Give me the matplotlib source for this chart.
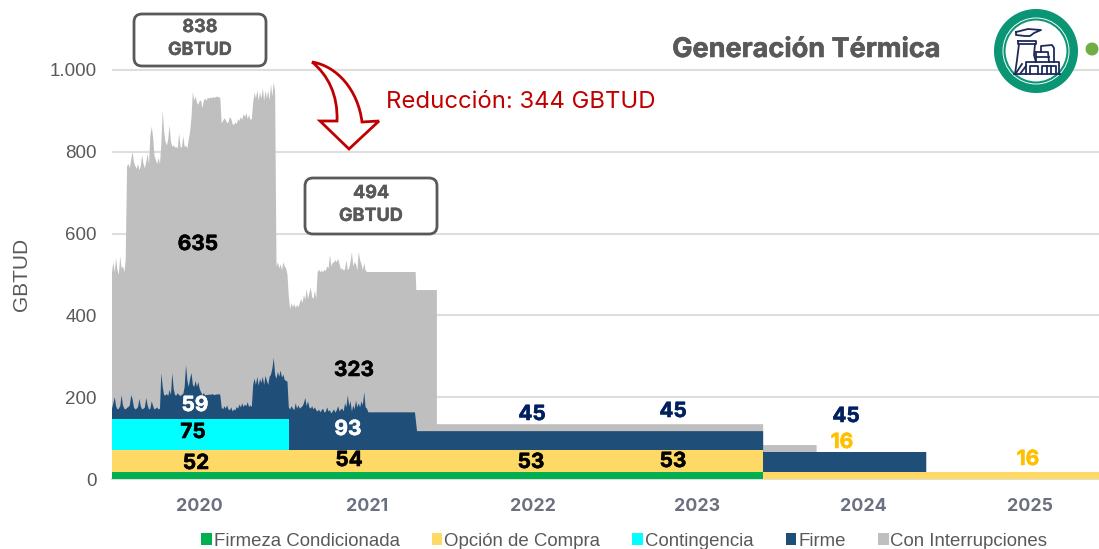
import numpy as np
import matplotlib
matplotlib.use("Agg")
import matplotlib.pyplot as plt
import matplotlib.patheffects as pe
from matplotlib.patches import FancyBboxPatch, Circle, PathPatch, Rectangle
from matplotlib.path import Path
from matplotlib.lines import Line2D

# ---------- data (GBTUD, stacked tops) ----------
years = ["2020", "2021", "2022", "2023", "2024", "2025"]
year_centres = [6.4, 18.6, 30.7, 42.7, 54.8, 67.0]      # months since start
series_names = ["Firmeza Condicionada", "Opción de Compra", "Contingencia", "Firme", "Con Interrupciones"]

step_months = 0.1  # sampling of the daily part of the series
firm_top = [172,185,200,178,170,172,178,205,180,172,170,174,176,180,205,195,175,170,172,176,196,178,170,172,175,198,180,170,172,190,178,170,172,175,170,172,
            259,225,205,204,208,203,218,205,259,220,205,204,210,205,203,206,208,225,279,240,225,245,259,230,225,240,225,237,220,212,205,210,204,206,205,207,205,208,206,205,207,206,208,205,
            175,170,178,172,180,170,168,175,165,170,168,176,172,182,175,185,176,182,178,188,176,180,176,
            230,245,230,250,228,245,235,250,230,252,240,230,250,255,270,296,255,245,262,250,265,248,255,242,240,238,
            175,170,178,172,168,185,172,180,172,175,178,185,198,178,190,175,172,178,170,175,168,165,170,163,168,172,162,165,175,165,168,160,165,170,162,168,178,165,170,172,165,185,175,205,178,190,165,180,170,192,175,185,175,190,180,212,175,172,163]
gray_top = [505,530,505,540,510,500,545,515,520,505,535,
            765,770,760,780,800,775,765,758,770,755,765,792,770,760,775,795,770,
            840,862,835,790,780,770,785,770,820,902,850,825,815,830,865,825,812,816,810,812,808,845,812,810,838,812,815,808,830,850,885,
            946,925,935,920,915,925,925,907,925,930,925,932,930,933,931,934,932,934,935,933,932,
            870,875,882,878,870,872,885,880,868,865,872,868,880,875,885,878,892,885,895,880,890,878,880,
            920,945,930,950,925,945,930,955,925,950,930,950,925,965,935,970,945,
            520,530,515,525,510,530,520,515,500,
            445,415,430,420,428,418,425,420,430,440,430,450,438,465,440,455,468,445,440,460,440,
            505,512,505,510,505,512,508,520,515,548,520,528,530,535,530,538,525,512,515,510,512,535,510,515,530,555,520,530,525,510,555,535,525,510,528,510,506]

gray_tail_x = [22.15, 22.2, 23.7, 23.7, 47.5, 47.5, 51.4, 51.4]
gray_tail_y = [506, 462, 462, 134, 134, 83, 83, 0]
firm_tail_x = [22.1, 22.25, 47.5, 47.5, 59.4, 59.4]
firm_tail_y = [163, 117, 117, 66, 66, 0]
cont_x = [0, 12.9, 12.9]
cont_y = [146, 146, 0]
opt_x = [0, 12.9, 12.9, 47.5, 47.5, 72]
opt_y = [70, 70, 72, 72, 16, 16]
firmcond_x = [0, 47.5, 47.5]
firmcond_y = [16, 16, 0]

totals = ["838\nGBTUD", "494\nGBTUD"]
reduction = "Reducción: 344 GBTUD"
title = "Generación Térmica"
labels = ["635", "59", "75", "52", "323", "93", "54", "53", "53", "45", "45", "45", "16", "16"]

# ---------- styles ----------
C_GREEN, C_YEL, C_CYAN, C_NAVY, C_GRAY = "#00B050", "#FFD966", "#00FFFF", "#1F4E79", "#BFBFBF"
TXT = "#595959"
plt.rcParams["font.family"] = ["Liberation Sans", "DejaVu Sans"]
W, H = 1099, 549
fig = plt.figure(figsize=(W / 100, H / 100), dpi=100)
ax = fig.add_axes([112 / W, 1 - 479 / H, 1 - 112 / W, 479 / H])


def layer(x, y, color, z):
    x, y = np.asarray(x, float), np.asarray(y, float)
    ax.fill(np.r_[x, x[-1], x[0]], np.r_[y, 0, 0], color=color, lw=0, zorder=z)


gx = np.r_[np.arange(len(gray_top)) * step_months, gray_tail_x]
gy = np.r_[gray_top, gray_tail_y]
fx = np.r_[np.arange(len(firm_top)) * step_months, firm_tail_x]
fy = np.r_[firm_top, firm_tail_y]
layer(gx, gy, C_GRAY, 2)
layer(fx, fy, C_NAVY, 3)
layer(cont_x, cont_y, C_CYAN, 4)
layer(opt_x, opt_y, C_YEL, 5)
layer(firmcond_x, firmcond_y, C_GREEN, 6)

ax.set_xlim(0, 72)
ax.set_ylim(0, 479 / 0.409)
ax.set_yticks([0, 200, 400, 600, 800, 1000])
ax.set_yticklabels(["0", "200", "400", "600", "800", "1.000"], fontsize=13.5, color=TXT)
ax.set_xticks(year_centres)
ax.set_xticklabels(years, fontsize=12.8, fontweight="bold", color="#6B7080", family="Inter")
ax.tick_params(axis="both", length=0)
ax.tick_params(axis="x", pad=14)
ax.tick_params(axis="y", pad=11)
ax.grid(axis="y", color="#DEDEDE", lw=1.5, zorder=0)
ax.set_axisbelow(True)
for s in ax.spines.values():
    s.set_visible(False)
ax.set_ylabel("GBTUD", fontsize=15, color=TXT)
ax.yaxis.set_label_coords(-81 / 987, (479 - 274) / 479)
ax.axhline(0, color="#DEDEDE", lw=1.5, zorder=1).set_clip_on(False)

# overlay in figure pixels for annotations
ov = fig.add_axes([0, 0, 1, 1], facecolor="none")
ov.set_xlim(0, W); ov.set_ylim(H, 0); ov.axis("off")
heavy = lambda c, w=0.5: [pe.withStroke(linewidth=w, foreground=c)]

for (x0, y0, x1, y1), s in zip([(134, 14, 266, 66), (305, 178, 437, 234)], totals):
    ov.add_patch(FancyBboxPatch((x0 + 8, y0 + 8), x1 - x0 - 16, y1 - y0 - 16, boxstyle="round,pad=8,rounding_size=8",
                                fc="white", ec=TXT, lw=2, zorder=5))
    ov.text((x0 + x1) / 2, (y0 + y1) / 2 - 1, s, ha="center", va="center", fontsize=13, fontweight="bold",
            color=TXT, family="Inter", linespacing=1.45, zorder=6, path_effects=heavy(TXT, 0.3))

# curved arrow
verts = [(312, 62), (337, 66), (358, 90), (362, 122), (379, 121), (349, 149), (320, 121), (337, 121),
         (338, 95), (328, 75), (312, 62)]
codes = [Path.MOVETO, Path.CURVE4, Path.CURVE4, Path.CURVE4, Path.LINETO, Path.LINETO, Path.LINETO, Path.LINETO,
         Path.CURVE4, Path.CURVE4, Path.CURVE4]
ov.add_patch(PathPatch(Path(verts, codes), fc="white", ec="#C00000", lw=2, joinstyle="miter", zorder=5))
ov.text(386, 102, reduction, fontsize=17.2, color="#C00000", family="Inter", va="center", ha="left")

ov.text(807, 50, title, fontsize=19.5, fontweight="bold", color=TXT, family="Inter", va="center", ha="center",
        path_effects=heavy(TXT, 0.4))

# data labels
lab_xy = [(198, 244), (195, 405), (193, 432), (196, 463), (354, 370), (348, 429), (349, 460), (531, 462),
          (673, 461), (532, 414), (673, 411), (846, 416), (842, 442), (1028, 459)]
lab_col = ["black", "white", "black", "black", "black", "white", "black", "black", "black",
           "#002060", "#002060", "#002060", "#FFC000", "#FFC000"]
for s, (x, y), c in zip(labels, lab_xy, lab_col):
    ov.text(x, y, s, ha="center", va="center", fontsize=15, fontweight="bold", color=c, family="Inter", zorder=7,
            path_effects=heavy(c, 0.4))

# icon
cx, cy = 1036, 51
TEAL = "#0A9674"
ov.add_patch(Circle((cx, cy), 42, fc=TEAL, ec="none", zorder=5))
ov.add_patch(Circle((cx, cy), 33.5, fc="white", ec="none", zorder=6))
ov.add_patch(Circle((cx, cy), 31.5, fc="white", ec=TEAL, lw=1.5, zorder=7))
NV = "#1F2A5A"
segs = [[(1019, 44), (1017, 60), (1015, 74)],
        [(1035, 44), (1034, 55), (1036, 62)],
        [(1018, 41), (1036, 41), (1036, 44), (1018, 44), (1018, 41)],
        [(1016, 32), (1028, 29), (1041, 30), (1034, 33), (1030, 36), (1025, 36), (1016, 35), (1016, 32)],
        [(1036, 52), (1048, 52), (1049, 62)], [(1036, 52), (1036, 62)], [(1036, 57), (1049, 57)],
        [(1041, 52), (1041, 46), (1052, 45), (1054, 48), (1054, 62)],
        [(1026, 74), (1026, 62), (1059, 62), (1059, 74)],
        [(1014, 74), (1060, 74)],
        [(1030, 74), (1030, 66), (1038, 66), (1038, 74)],
        [(1042, 74), (1042, 66), (1056, 66), (1056, 74)],
        [(1047, 66), (1047, 74)], [(1051, 66), (1051, 74)],
        [(1016, 73), (1022, 64)], [(1020, 74), (1026, 66)]]
for sg in segs:
    xs, ys = zip(*sg)
    ov.add_line(Line2D(xs, ys, color=NV, lw=1.3, zorder=8))
ov.add_patch(Circle((1092, 49), 6.5, fc="#70AD47", ec="none", zorder=5))

# legend
handles = [Rectangle((0, 0), 1, 1, fc=c, ec="none") for c in [C_GREEN, C_YEL, C_CYAN, C_NAVY, C_GRAY]]
fig.legend(handles, series_names, ncol=5, loc="center left", bbox_to_anchor=(201 / W, 1 - 541 / H), frameon=False,
           fontsize=13.4, labelcolor=TXT, handlelength=0.58, handleheight=0.58, handletextpad=0.1, columnspacing=1.72,
           borderpad=0, borderaxespad=0)

fig.savefig("out.png", dpi=100, facecolor="white")
